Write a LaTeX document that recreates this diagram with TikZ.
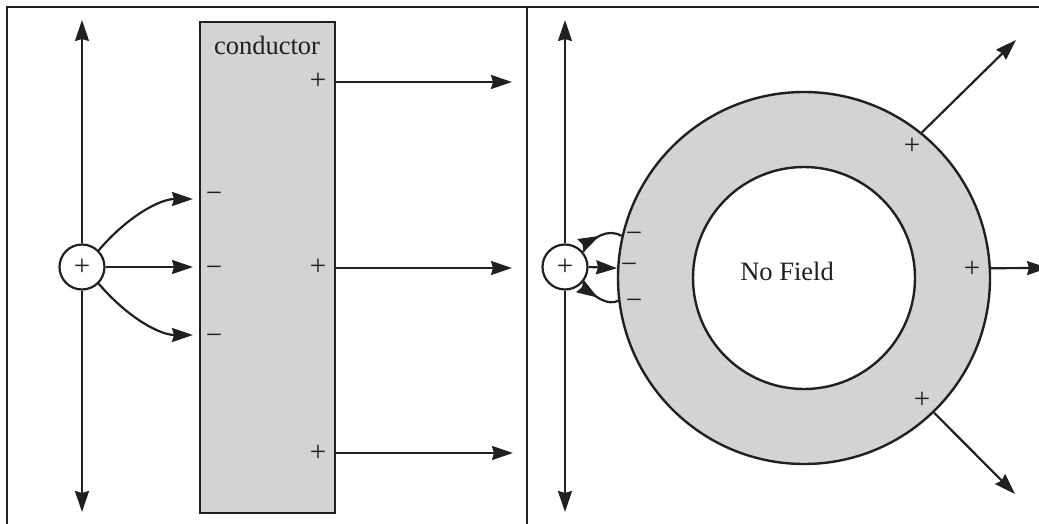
\documentclass[tikz,border=0pt]{standalone}
\usepackage{fontspec}
\setmainfont{Liberation Serif}
\usetikzlibrary{arrows.meta,decorations.markings}
\definecolor{ink}{HTML}{231F20}
\definecolor{cgray}{HTML}{D1D3D4}
\begin{document}
\begin{tikzpicture}[x=1pt,y=-1pt,
  frame/.style={draw=ink, line width=2.2pt},
  fieldarrow/.style={draw=ink, color=ink, line width=2.2pt, -{Stealth[length=21pt,width=14pt,inset=2pt]}},
  loopline/.style={draw=ink, color=ink, line width=2.2pt},
  midarrow/.style={postaction={decorate}, decoration={markings, mark=at position #1 with {\arrow{Stealth[length=21pt,width=14pt,inset=2pt]}}}},
  charge/.style={circle, draw=ink, line width=2.2pt, minimum size=45pt, inner sep=0pt, fill=white, text=ink, font=\fontsize{29}{30}\selectfont},
  sign/.style={inner sep=0pt, anchor=base, text=ink, font=\fontsize{29}{30}\selectfont},
  lbl/.style={inner sep=0pt, text=ink, font=\fontsize{26.5}{30}\selectfont},
  conductorbox/.style={rectangle, draw=ink, line width=2.4pt, fill=cgray, inner sep=0pt},
  ringline/.style={circle, draw=ink, line width=2.4pt, inner sep=0pt}
]
\useasboundingbox (0,0) rectangle (1039,524);
\clip (0,0) rectangle (1039,524);

% frame
\draw[frame] (7,524) -- (7,7) -- (1039,7);
\draw[frame] (527,7) -- (527,524);

% ---------- left panel ----------
\node[conductorbox, minimum width=135pt, minimum height=491pt] (cond) at (267.5,267.5) {};
\node[lbl] (condlbl) at (267,45) {conductor};
\node[charge] (lc) at (82,267) {+};

\coordinate (ltop) at (82,20);
\coordinate (lbot) at (82,512);
\coordinate (lt1) at (193,199);
\coordinate (lt2) at (193,267);
\coordinate (lt3) at (193,335);
\coordinate (rt1) at (512,82);
\coordinate (rt2) at (512,268);
\coordinate (rt3) at (513,453);

\node[sign] (lm1) at (214,202) {−};
\node[sign] (lm2) at (214,276) {−};
\node[sign] (lm3) at (214,344) {−};
\node[sign] (lp1) at (318,90) {+};
\node[sign] (lp2) at (318,275) {+};
\node[sign] (lp3) at (318,461) {+};

\draw[fieldarrow] (lc.north) -- (ltop);
\draw[fieldarrow] (lc.south) -- (lbot);
\draw[fieldarrow] (lc.45) .. controls (128,216) and (160,199) .. (lt1);
\draw[fieldarrow] (lc.east) -- (lt2);
\draw[fieldarrow] (lc.-45) .. controls (128,318) and (160,335) .. (lt3);
\draw[fieldarrow] (cond.east |- rt1) -- (rt1);
\draw[fieldarrow] (cond.east |- rt2) -- (rt2);
\draw[fieldarrow] (cond.east |- rt3) -- (rt3);

% ---------- right panel ----------
\node[ringline, fill=cgray, minimum size=372pt] (outer) at (804,278) {};
\node[ringline, fill=white, minimum size=222pt] (inner) at (804,278) {};
\node[lbl] (nofield) at (787,271.5) {No Field};
\node[charge] (rc) at (565,267) {+};

\coordinate (rtop) at (565,20);
\coordinate (rbot) at (565,512);
\coordinate (ur) at (1016,40);
\coordinate (rr) at (1048,268);
\coordinate (lr) at (1015,494);

\node[sign] (rm1) at (634,242) {−};
\node[sign] (rm2) at (629,273) {−};
\node[sign] (rm3) at (634,309) {−};
\node[sign] (rp1) at (912,154) {+};
\node[sign] (rp2) at (972,277) {+};
\node[sign] (rp3) at (922,408) {+};

\draw[fieldarrow] (rc.north) -- (rtop);
\draw[fieldarrow] (rc.south) -- (rbot);
\draw[loopline, midarrow=0.5] (rc.40) .. controls (592,237) and (608,228) .. (outer.167);
\draw[fieldarrow] (rc.east) -- (outer.177);
\draw[loopline, midarrow=0.5] (rc.-40) .. controls (592,297) and (608,306) .. (outer.187);
\draw[fieldarrow] (outer.51) -- (ur);
\draw[fieldarrow] (outer.3) -- (rr);
\draw[fieldarrow] (outer.-46) -- (lr);
\end{tikzpicture}
\end{document}
